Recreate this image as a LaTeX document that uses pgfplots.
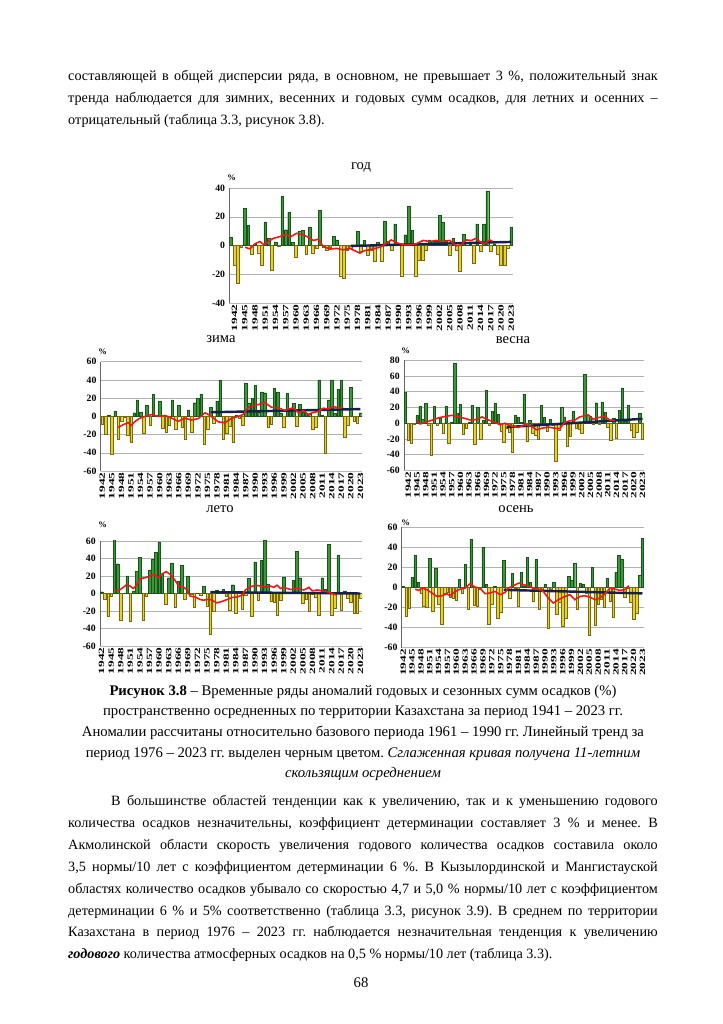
\documentclass[border=0pt]{standalone}
\usepackage{fontspec}
\setmainfont{Liberation Serif}
\usepackage{graphicx}
\usepackage{pgfplots}
\usepackage{pgfplotstable}
\pgfplotsset{compat=1.18}
\frenchspacing

\definecolor{gfill}{RGB}{58,152,58}
\definecolor{gdraw}{RGB}{25,85,25}
\definecolor{yfill}{RGB}{232,210,42}
\definecolor{ydraw}{RGB}{120,105,15}
\definecolor{rline}{RGB}{235,25,25}
\definecolor{tline}{RGB}{22,32,72}

\newsavebox\jbox
\newcommand\jline[2]{\sbox\jbox{#2}\ifdim\wd\jbox>#1\relax\resizebox{#1}{\height}{#2}\else\makebox[#1][s]{#2}\fi}

\pgfplotsset{
 anom/.style={
  scale only axis,
  axis lines*=left,
  axis line style={-},
  x axis line style={draw=gray!55},
  y axis line style={draw=black!60},
  ymajorgrids,
  grid style={gray!60, line width=0.4pt},
  tick style={draw=none},
  xtick={1942,1945,...,2023},
  xticklabel={\scalebox{1}[0.6]{\pgfmathprintnumber[1000 sep={}]{\tick}}},
  xticklabel style={rotate=90, anchor=east, font=\bfseries\fontsize{11}{11}\selectfont, inner sep=1pt},
  yticklabel style={font=\bfseries\fontsize{8}{9}\selectfont},
  /pgf/number format/assume math mode=true,
  ymin=-60, ymax=60, ytick={-60,-40,...,60},
 },
 gbar/.style={ybar, bar width=0.8, bar shift=0pt, fill=gfill, draw=gdraw, line width=0.3pt, restrict y to domain=0:200},
 ybarn/.style={ybar, bar width=0.8, bar shift=0pt, fill=yfill, draw=ydraw, line width=0.3pt, restrict y to domain=-200:0},
 smline/.style={rline, line width=1.3pt, no marks},
 trline/.style={tline, line width=2pt, no marks},
}

\pgfplotstableread[row sep=\\]{
yr v\\
1941 5.5\\ 1942 -14\\ 1943 -26\\ 1944 -1.5\\ 1945 26\\ 1946 14\\ 1947 -6\\ 1948 1\\ 1949 -5\\ 1950 -14\\
1951 16.5\\ 1952 5\\ 1953 -17\\ 1954 2.5\\ 1955 -0.5\\ 1956 34\\ 1957 11\\ 1958 23\\ 1959 2\\ 1960 -8\\
1961 10\\ 1962 10.5\\ 1963 -6\\ 1964 13\\ 1965 -5\\ 1966 -2\\ 1967 24.5\\ 1968 -1\\ 1969 -3\\ 1970 -1\\
1971 6.5\\ 1972 4\\ 1973 -21\\ 1974 -22.5\\ 1975 -3\\ 1976 -2\\ 1977 0.5\\ 1978 10\\ 1979 -4\\ 1980 3.5\\
1981 -7\\ 1982 -3\\ 1983 -11\\ 1984 2\\ 1985 -11\\ 1986 17\\ 1987 3\\ 1988 -3\\ 1989 15\\ 1990 1\\
1991 -21\\ 1992 7.5\\ 1993 27.5\\ 1994 10.5\\ 1995 -21\\ 1996 -10.5\\ 1997 -10\\ 1998 -3\\ 1999 4\\ 2000 3\\
2001 3\\ 2002 21\\ 2003 16\\ 2004 4\\ 2005 -7\\ 2006 5\\ 2007 -3\\ 2008 -18\\ 2009 8\\ 2010 0.5\\
2011 1\\ 2012 -12\\ 2013 15\\ 2014 -4\\ 2015 15\\ 2016 38\\ 2017 -4\\ 2018 1\\ 2019 -6\\ 2020 -14\\
2021 -14\\ 2022 -2\\ 2023 13\\
}\tGod

\pgfplotstableread[row sep=\\]{
yr v\\
1942 -9\\ 1943 -20\\ 1944 1\\ 1945 -42\\ 1946 6\\ 1947 -25\\ 1948 -5\\ 1949 -1\\ 1950 -21\\ 1951 -28\\
1952 4\\ 1953 18\\ 1954 5\\ 1955 -18\\ 1956 12\\ 1957 -10\\ 1958 24\\ 1959 1\\ 1960 17\\ 1961 -13\\
1962 -17\\ 1963 -10\\ 1964 18\\ 1965 -14\\ 1966 12\\ 1967 -12\\ 1968 -25\\ 1969 7\\ 1970 -17\\ 1971 15\\
1972 20\\ 1973 24\\ 1974 -31\\ 1975 -14\\ 1976 10\\ 1977 -7\\ 1978 17\\ 1979 40\\ 1980 -25\\ 1981 -18\\
1982 -11\\ 1983 -28\\ 1984 1\\ 1985 -2\\ 1986 -10\\ 1987 36\\ 1988 14\\ 1989 20\\ 1990 34\\ 1991 5\\
1992 27\\ 1993 26\\ 1994 -12\\ 1995 -9\\ 1996 31\\ 1997 27\\ 1998 4\\ 1999 -12\\ 2000 25\\ 2001 8\\
2002 14\\ 2003 -11\\ 2004 13\\ 2005 5\\ 2006 3\\ 2007 2\\ 2008 -14\\ 2009 -12\\ 2010 40\\ 2011 1\\
2012 -40\\ 2013 18\\ 2014 40\\ 2015 3\\ 2016 30\\ 2017 40\\ 2018 -23\\ 2019 -10\\ 2020 32\\ 2021 -5\\
2022 -7\\ 2023 4\\
}\tZima

\pgfplotstableread[row sep=\\]{
yr v\\
1941 39\\ 1942 -22\\ 1943 -26\\ 1944 -1\\ 1945 10\\ 1946 21\\ 1947 5\\ 1948 25\\ 1949 -3\\ 1950 -41\\
1951 21\\ 1952 -2\\ 1953 6\\ 1954 -13\\ 1955 22\\ 1956 -25\\ 1957 1\\ 1958 76\\ 1959 13\\ 1960 24\\
1961 -14\\ 1962 -7\\ 1963 1\\ 1964 23\\ 1965 -27\\ 1966 20\\ 1967 -21\\ 1968 4\\ 1969 42\\ 1970 -3\\
1971 15\\ 1972 25\\ 1973 11\\ 1974 -10\\ 1975 -24\\ 1976 -6\\ 1977 -12\\ 1978 -37\\ 1979 10\\ 1980 8\\
1981 1\\ 1982 37\\ 1983 -23\\ 1984 4\\ 1985 -13\\ 1986 -15\\ 1987 -20\\ 1988 23\\ 1989 7\\ 1990 -10\\
1991 5\\ 1992 -3\\ 1993 -49\\ 1994 -9\\ 1995 20\\ 1996 8\\ 1997 -29\\ 1998 -17\\ 1999 15\\ 2000 -6\\
2001 -8\\ 2002 -13\\ 2003 62\\ 2004 10\\ 2005 9\\ 2006 -1\\ 2007 26\\ 2008 -1\\ 2009 27\\ 2010 14\\
2011 -5\\ 2012 -22\\ 2013 6\\ 2014 -19\\ 2015 16\\ 2016 45\\ 2017 2\\ 2018 23\\ 2019 -9\\ 2020 -18\\
2021 -12\\ 2022 13\\ 2023 -21\\
}\tVesna

\pgfplotstableread[row sep=\\]{
yr v\\
1942 2\\ 1943 -7\\ 1944 -26\\ 1945 -3\\ 1946 62\\ 1947 34\\ 1948 -30\\ 1949 0.5\\ 1950 20\\ 1951 -32\\
1952 3\\ 1953 25\\ 1954 41\\ 1955 -30\\ 1956 -3\\ 1957 27\\ 1958 39\\ 1959 47\\ 1960 59\\ 1961 22\\
1962 -12\\ 1963 18\\ 1964 35\\ 1965 -16\\ 1966 14\\ 1967 32\\ 1968 -7\\ 1969 20\\ 1970 -1\\ 1971 -16\\
1972 0.5\\ 1973 -2\\ 1974 8\\ 1975 -14\\ 1976 -46\\ 1977 -20\\ 1978 4\\ 1979 1\\ 1980 5\\ 1981 -3\\
1982 -19\\ 1983 10\\ 1984 -23\\ 1985 3\\ 1986 -18\\ 1987 -2\\ 1988 17\\ 1989 -26\\ 1990 36\\ 1991 -8\\
1992 38\\ 1993 61\\ 1994 11\\ 1995 -9\\ 1996 -10\\ 1997 -25\\ 1998 -8\\ 1999 19\\ 2000 0.5\\ 2001 1\\
2002 15\\ 2003 48\\ 2004 18\\ 2005 -11\\ 2006 -7\\ 2007 -20\\ 2008 -0.5\\ 2009 -4\\ 2010 -25\\ 2011 18\\
2012 5\\ 2013 56\\ 2014 -25\\ 2015 -17\\ 2016 44\\ 2017 -19\\ 2018 3\\ 2019 -5\\ 2020 -10\\ 2021 -23\\
2022 -22\\ 2023 -5\\
}\tLeto

\pgfplotstableread[row sep=\\]{
yr v\\
1942 1\\ 1943 -29\\ 1944 -21\\ 1945 10\\ 1946 32\\ 1947 5\\ 1948 -6\\ 1949 -19\\ 1950 -20\\ 1951 29\\
1952 -24\\ 1953 19\\ 1954 -17\\ 1955 -37\\ 1956 -6\\ 1957 -5\\ 1958 -10\\ 1959 -11\\ 1960 -13\\ 1961 8\\
1962 -6\\ 1963 23\\ 1964 -22\\ 1965 48\\ 1966 -18\\ 1967 -19\\ 1968 -2\\ 1969 40\\ 1970 3\\ 1971 -37\\
1972 -17\\ 1973 1\\ 1974 -31\\ 1975 -25\\ 1976 27\\ 1977 -3\\ 1978 -11\\ 1979 14\\ 1980 -1\\ 1981 -19\\
1982 15\\ 1983 1\\ 1984 30\\ 1985 5\\ 1986 -14\\ 1987 28\\ 1988 -22\\ 1989 -2\\ 1990 3\\ 1991 -41\\
1992 -2\\ 1993 5\\ 1994 -27\\ 1995 -15\\ 1996 -39\\ 1997 -31\\ 1998 11\\ 1999 7\\ 2000 24\\ 2001 -22\\
2002 4\\ 2003 3\\ 2004 -6\\ 2005 -48\\ 2006 20\\ 2007 -38\\ 2008 -17\\ 2009 -12\\ 2010 -20\\ 2011 9\\
2012 -14\\ 2013 -30\\ 2014 15\\ 2015 32\\ 2016 28\\ 2017 -10\\ 2018 -1\\ 2019 -15\\ 2020 -32\\ 2021 -26\\
2022 12\\ 2023 49\\
}\tOsen

\tikzset{
 body/.style={anchor=base west, inner sep=0pt, font=\fontsize{11.7}{14}\selectfont},
 capt/.style={anchor=base, inner sep=0pt, font=\fontsize{12.1}{14}\selectfont},
 ctitle/.style={anchor=base, inner sep=0pt, font=\fontsize{12}{14}\selectfont},
 pct/.style={inner sep=0pt, font=\bfseries\fontsize{7}{8}\selectfont},
}

\begin{document}
\begin{tikzpicture}[x=0.8235pt,y=-0.8235pt]
\path[use as bounding box] (0,0) rectangle (723,1024);
\fill[white] (0,0) rectangle (723,1024);
\coordinate (pGod) at (229.3,303);
\coordinate (pZima) at (100.7,471);
\coordinate (pVesna) at (404,470.3);
\coordinate (pLeto) at (100,646);
\coordinate (pOsen) at (401.7,647.7);

% top paragraph
\node[body] at (68,80) {\jline{485.5pt}{составляющей в общей дисперсии ряда, в основном, не превышает 3 \%, положительный знак}};
\node[body] at (68,102) {\jline{485.5pt}{тренда наблюдается для зимних, весенних и годовых сумм осадков, для летних и осенних –}};
\node[body] at (68,124) {отрицательный (таблица 3.3, рисунок 3.8).};

% titles
\node[ctitle] at (361,169) {год};
\node[ctitle] at (221,342) {зима};
\node[ctitle] at (513,343) {весна};
\node[ctitle] at (220,512) {лето};
\node[ctitle] at (516,512) {осень};
\node[pct] at (231.7,178) {\%};
\node[pct] at (102.7,351.7) {\%};
\node[pct] at (405.7,351) {\%};
\node[pct] at (102.7,525) {\%};
\node[pct] at (405.7,522.7) {\%};

% год
\begin{axis}[anom, at={(pGod)}, anchor=south west, width=233.6pt, height=94.7pt,
  xmin=1940.5, xmax=2023.5, ymin=-40, ymax=40, ytick={-40,-20,...,40}]
\addplot[gbar] table[x=yr,y=v]{\tGod};
\addplot[ybarn] table[x=yr,y=v]{\tGod};
\addplot[trline] coordinates {(1976,-0.3) (2023,2.5)};
\addplot[smline] coordinates {(1945.1,-1.2)(1946.5,-2.3)(1948,1.2)(1949.5,2.8)(1950.6,0.5)(1951.9,2.8)(1953.4,5)(1955.3,6.2)(1957.3,7.8)(1958.2,5.8)(1960.2,8.5)(1962.1,7.4)(1963.6,5.8)(1965.1,3.5)(1966.5,4.4)(1968,-0.7)(1969.9,-2.5)(1971.9,-2)(1973.8,-3)(1975.8,-2)(1977.7,-4.2)(1978.7,-5.3)(1980.1,-3.5)(1981.6,-3)(1983.6,-1.8)(1985,-0.7)(1986.5,1.6)(1987.9,3.9)(1989.4,2)(1991.3,0.5)(1993.3,0.5)(1995.2,1.2)(1997.2,3.5)(1999.1,2.8)(2001.1,3.5)(2003,2.8)(2005,3.5)(2006.9,-0.2)(2008.4,0.5)(2009.8,3.9)(2011.3,3.5)(2012.7,5)(2013.7,2.8)(2015.2,1.2)(2016.7,3.9)(2017.6,2.8)};
\end{axis}

% зима
\begin{axis}[anom, at={(pZima)}, anchor=south west, width=215.2pt, height=90pt,
  xmin=1941.5, xmax=2023.5]
\addplot[gbar] table[x=yr,y=v]{\tZima};
\addplot[ybarn] table[x=yr,y=v]{\tZima};
\addplot[trline] coordinates {(1976,4.5) (2023,8)};
\addplot[smline] coordinates {(1947,-12)(1948.6,-9)(1950.2,-7)(1951,-10)(1952.3,-5.5)(1953.8,-2)(1955.4,0)(1957.5,2)(1959.6,0)(1961.7,1)(1963.8,-2)(1965.8,-5.5)(1967.9,-2)(1970,-4)(1972.1,-2.5)(1974.2,4)(1975.8,1)(1978.4,-6)(1980.5,-7)(1982.6,-2)(1984.7,0)(1986.2,2)(1987.8,10)(1989.9,12)(1992,14)(1993,15)(1995.1,10)(1997.2,9.5)(1999.3,6.5)(2001.4,9)(2002.5,8)(2003.5,4)(2005.1,6.5)(2006.6,2)(2007.9,4)(2009.8,5.5)(2011.4,9)(2012.9,8)(2014.5,11)(2016.1,9)(2017.6,10)};
\end{axis}

% весна
\begin{axis}[anom, at={(pVesna)}, anchor=south west, width=197.6pt, height=90.6pt,
  xmin=1940.5, xmax=2023.5, ymin=-60, ymax=80, ytick={-60,-40,...,80}]
\addplot[gbar] table[x=yr,y=v]{\tVesna};
\addplot[ybarn] table[x=yr,y=v]{\tVesna};
\addplot[trline] coordinates {(1976,-5) (2023,5.5)};
\addplot[smline] coordinates {(1944.9,3)(1946.1,-1)(1947.8,1)(1949.5,3)(1951.2,5)(1952.6,7)(1954.7,8.5)(1957,10)(1959.3,8)(1961.6,6)(1963.9,3.5)(1966.2,5.5)(1967.4,8)(1969.7,4)(1972,1)(1973.7,-2)(1975.4,0)(1977.7,-4)(1980,-5.5)(1982.3,-2)(1984.6,-4)(1986.3,-8.5)(1988.1,-6.5)(1990.4,-5)(1992.7,-6.5)(1994.4,-7)(1996.1,1)(1997.8,3)(1999.6,4)(2001.3,8)(2003,9.5)(2004.2,10.5)(2005.9,5)(2007.6,7)(2009.9,8.5)(2011.6,4)(2013.4,3)};
\end{axis}

% лето
\begin{axis}[anom, at={(pLeto)}, anchor=south west, width=215.8pt, height=86.5pt,
  xmin=1941.5, xmax=2023.5]
\addplot[gbar] table[x=yr,y=v]{\tLeto};
\addplot[ybarn] table[x=yr,y=v]{\tLeto};
\addplot[trline] coordinates {(1976,1.5) (2023,0)};
\addplot[smline] coordinates {(1946.2,3)(1947.8,4.5)(1948.8,7)(1949.8,10)(1950.9,8.5)(1951.9,5.7)(1953,9.5)(1954,17)(1955.6,18)(1957.2,20)(1958.4,22)(1959.8,18)(1960.8,22)(1962.2,25)(1963.4,22)(1965,15)(1966.1,8.5)(1967.6,7.5)(1968.7,4)(1969.7,-3)(1971.3,-4)(1972.9,-7)(1973.9,-7.6)(1975.5,-6.5)(1976.5,-7.6)(1978.1,-10.7)(1979.7,-9)(1981.2,-7)(1982.8,-4.5)(1984.4,-4)(1985.9,-2)(1987,4)(1988.5,7.5)(1990.1,9.5)(1991.7,8.5)(1993.3,7)(1994.8,8.5)(1995.9,7)(1996.9,9.5)(1998,5.7)(1999,7)(2001.1,4.5)(2003.2,5.7)(2005.3,4)(2006.9,7)(2007.9,3)(2009.5,4)(2011,3)(2012.6,2)(2014.2,0)(2015.7,-2)};
\end{axis}

% осень
\begin{axis}[anom, at={(pOsen)}, anchor=south west, width=199.5pt, height=99.4pt,
  xmin=1941.5, xmax=2023.5]
\addplot[gbar] table[x=yr,y=v]{\tOsen};
\addplot[ybarn] table[x=yr,y=v]{\tOsen};
\addplot[trline] coordinates {(1976,-2.5) (2023,-6)};
\addplot[smline] coordinates {(1946.1,-1.7)(1947.2,-3)(1948.5,-0.7)(1950,-2.3)(1951.7,-5.6)(1953.4,-9)(1955.1,-8.3)(1956.8,-6.3)(1957.9,-8.3)(1959.6,-4)(1961.3,-1.7)(1963,-0.7)(1964.6,3.6)(1966.3,0.3)(1968,-0.7)(1969.7,-6.3)(1971.4,-5.6)(1973.1,-4)(1974.8,-7.3)(1976.5,-5)(1977.6,-0.7)(1979.3,1.7)(1981.2,4.3)(1982.7,2.6)(1984.3,1.7)(1986,-0.7)(1987.7,-1.7)(1989.4,-4)(1991.1,-10.6)(1992.8,-15.6)(1994.5,-12.3)(1996.8,-9)(1998.5,-7.3)(2000.1,-12.3)(2001.8,-9)(2003.5,-8.3)(2005.2,-9.6)(2006.9,-12.3)(2008.6,-10.6)(2010.3,-6.3)(2012,-0.7)(2013.6,-1.7)(2015.3,-3)(2017,-2.3)(2018.4,1.7)};
\end{axis}

% caption
\node[capt] at (363,695) {\textbf{Рисунок 3.8} – Временные ряды аномалий годовых и сезонных сумм осадков (\%)};
\node[capt] at (363,715) {пространственно осредненных по территории Казахстана за период 1941 – 2023 гг.};
\node[capt] at (363,736) {Аномалии рассчитаны относительно базового периода 1961 – 1990 гг. Линейный тренд за};
\node[capt] at (363,757) {период 1976 – 2023 гг. выделен черным цветом. \textit{Сглаженная кривая получена 11-летним}};
\node[capt] at (363,777) {\textit{скользящим осреднением}};

% second paragraph
\node[body] at (111,805) {\jline{450pt}{В большинстве областей тенденции как к увеличению, так и к уменьшению годового}};
\node[body] at (68,827) {\jline{485.5pt}{количества осадков незначительны, коэффициент детерминации составляет 3 \% и менее. В}};
\node[body] at (68,849) {\jline{485.5pt}{Акмолинской области скорость увеличения годового количества осадков составила около}};
\node[body] at (68,871) {\jline{485.5pt}{3,5 нормы/10 лет с коэффициентом детерминации 6 \%. В Кызылординской и Мангистауской}};
\node[body] at (68,893) {\jline{485.5pt}{областях количество осадков убывало со скоростью 4,7 и 5,0 \% нормы/10 лет с коэффициентом}};
\node[body] at (68,915) {\jline{485.5pt}{детерминации 6 \% и 5\% соответственно (таблица 3.3, рисунок 3.9). В среднем по территории}};
\node[body] at (68,936) {\jline{485.5pt}{Казахстана в период 1976 – 2023 гг. наблюдается незначительная тенденция к увеличению}};
\node[body] at (68,958) {\textbf{\textit{годового}} количества атмосферных осадков на 0,5 \% нормы/10 лет (таблица 3.3).};
\node[capt] at (361,987) {68};
\end{tikzpicture}
\end{document}
